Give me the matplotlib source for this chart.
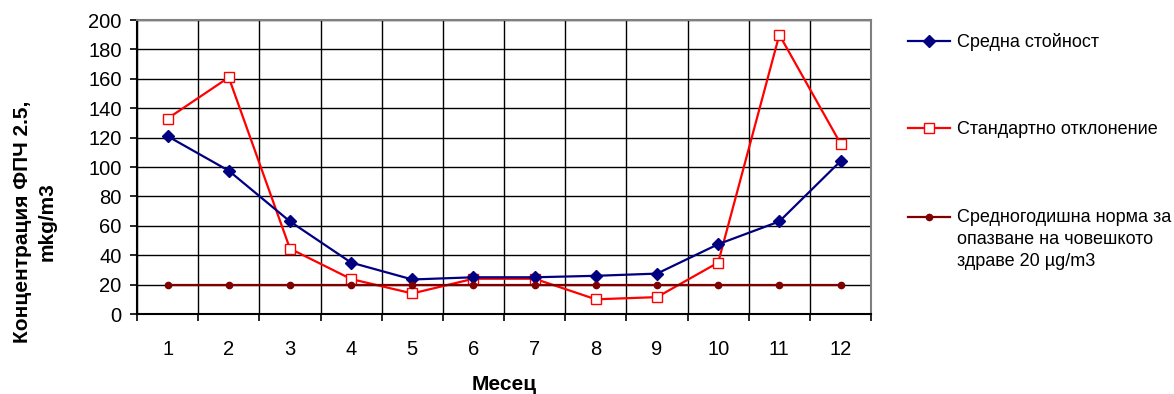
import matplotlib.pyplot as plt
import numpy as np

plt.rcParams['font.family'] = ['Liberation Sans', 'DejaVu Sans']

# месеци и стойности
months = [1, 2, 3, 4, 5, 6, 7, 8, 9, 10, 11, 12]
mean_vals = [121, 97.5, 63, 35, 23.5, 25, 25, 26, 27.5, 47.5, 63, 104]
std_vals = [133, 161, 44.5, 23.8, 14, 24, 24, 10, 11.5, 35, 190, 116]
norm_vals = [20] * 12

label_mean = 'Средна стойност'
label_std = 'Стандартно отклонение'
label_norm = 'Средногодишна норма за\nопазване на човешкото\nздраве 20 µg/m3'

fig = plt.figure(figsize=(11.74, 3.94), dpi=100)
ax = fig.add_axes([0.1167, 0.203, 0.6253, 0.746])

l1, = ax.plot(months, mean_vals, color='#000080', lw=1.6, marker='D', ms=6,
              mfc='#000080', mec='#000080', zorder=4)
l2, = ax.plot(months, std_vals, color='#FF0000', lw=1.6, marker='s', ms=7.5,
              mfc='white', mec='#FF0000', zorder=3)
l3, = ax.plot(months, norm_vals, color='#800000', lw=1.6, marker='o', ms=4.5,
              mfc='#800000', mec='#800000', zorder=5)

ax.set_xlim(0.5, 12.5)
ax.set_ylim(0, 200)
ax.set_yticks(np.arange(0, 201, 20))
ax.set_xticks(months)
ax.set_xticks(np.arange(0.5, 12.6, 1), minor=True)
ax.tick_params(axis='x', which='major', length=0, pad=19, labelsize=14.5)
ax.tick_params(axis='x', which='minor', length=5, width=1.2, direction='out')
ax.tick_params(axis='y', length=5, width=1.2, direction='out', labelsize=14.5, pad=6)
ax.grid(True, which='minor', axis='x', color='black', lw=1)
ax.grid(True, which='major', axis='y', color='black', lw=1)
ax.set_axisbelow(True)

for s in ['left', 'bottom']:
    ax.spines[s].set_color('black')
    ax.spines[s].set_linewidth(1.5)
for s in ['top', 'right']:
    ax.spines[s].set_color('#808080')
    ax.spines[s].set_linewidth(1.5)

fig.text(0.1167 + 0.6253 / 2, 0.025, 'Месец', ha='center', va='center',
         fontsize=15, fontweight='bold')
fig.text(0.0294, 0.438, 'Концентрация ФПЧ 2.5,\nmkg/m3', rotation=90,
         ha='center', va='center', multialignment='center', linespacing=1.4,
         fontsize=15, fontweight='bold')

# legend - one entry per block so the marker sits on the first line
entries = [(l1, label_mean), (l2, label_std), (l3, '\n\n' + label_norm)]
ys = [1 - 42 / 394, 1 - 130 / 394, 1 - 217 / 394]
for (h, lab), y in zip(entries, ys):
    leg = fig.legend(handles=[h], labels=[lab], loc='center left',
                     bbox_to_anchor=(908 / 1174, y), frameon=False, fontsize=13,
                     handlelength=2.3, handletextpad=0.4, borderpad=0,
                     borderaxespad=0)
    for t in leg.get_texts():
        t.set_linespacing(1.42)

fig.savefig('out.png', dpi=100)
